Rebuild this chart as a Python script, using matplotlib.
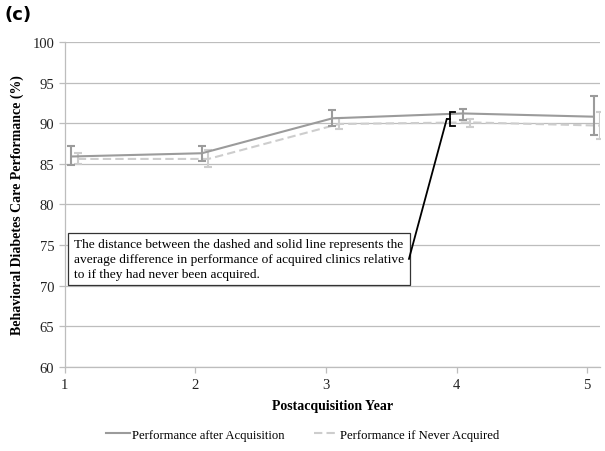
import matplotlib
matplotlib.use("Agg")
import matplotlib.pyplot as plt
from matplotlib.lines import Line2D

# Data
years = [1, 2, 3, 4, 5]
after_acq = [85.9, 86.3, 90.6, 91.2, 90.8]
after_lo = [84.8, 85.3, 89.6, 90.4, 88.5]
after_hi = [87.2, 87.2, 91.6, 91.8, 93.3]
never_acq = [85.6, 85.6, 89.9, 90.1, 89.7]
never_lo = [85.0, 84.6, 89.3, 89.5, 88.0]
never_hi = [86.3, 86.7, 90.6, 90.5, 91.4]

yticks = [60, 65, 70, 75, 80, 85, 90, 95, 100]
note = ("The distance between the dashed and solid line represents the\n"
        "average difference in performance of acquired clinics relative\n"
        "to if they had never been acquired.")

plt.rcParams['font.family'] = ['Liberation Serif', 'DejaVu Serif']

c_solid = '#9b9b9b'
c_dash = '#cdcdcd'
c_grid = '#bdbdbd'
dash_style = (0, (4, 2))

fig = plt.figure(figsize=(6.05, 4.52), dpi=100)
ax = fig.add_axes([0.107, 0.186, 0.885, 0.719])

# slight offsets like the original
x_solid = [x + 0.05 for x in years]
x_dash = [x + 0.10 for x in years]

ax.errorbar(x_dash, never_acq,
            yerr=[[m - l for m, l in zip(never_acq, never_lo)],
                  [h - m for m, h in zip(never_acq, never_hi)]],
            color=c_dash, lw=1.5, ls=dash_style, capsize=3, capthick=1.5,
            elinewidth=1.5, zorder=3)
ax.errorbar(x_solid, after_acq,
            yerr=[[m - l for m, l in zip(after_acq, after_lo)],
                  [h - m for m, h in zip(after_acq, after_hi)]],
            color=c_solid, lw=1.5, capsize=3, capthick=1.5, elinewidth=1.5,
            zorder=4)

ax.set_xlim(1, 5.1)
ax.set_ylim(60, 100)
ax.set_yticks(yticks)
ax.set_xticks(years)
ax.grid(axis='y', color=c_grid, lw=0.9, zorder=0)
ax.set_axisbelow(True)
for s in ['top', 'right']:
    ax.spines[s].set_visible(False)
for s in ['left', 'bottom']:
    ax.spines[s].set_color(c_grid)
    ax.spines[s].set_linewidth(0.9)
ax.tick_params(axis='both', colors=c_grid, labelcolor='#222222',
               labelsize=10.5, length=4, width=0.9)
ax.tick_params(axis='x', pad=4)

ax.set_xlabel('Postacquisition Year', fontsize=10, fontweight='bold', labelpad=6)
ax.set_ylabel('Behavioral Diabetes Care Performance (%)', fontsize=10,
              fontweight='bold', labelpad=6)

# note box
ax.text(1.07, 73.3, note, fontsize=9.6, va='center', ha='left', zorder=5,
        linespacing=1.3,
        bbox=dict(boxstyle='square,pad=0.42', fc='white', ec='#333333', lw=0.9))

# bracket between the two lines at year 4
bx = 3.95
b_lo = never_acq[3] - 0.5
b_hi = after_acq[3] + 0.2
b_mid = (b_lo + b_hi) / 2
ax.plot([bx + 0.035, bx, bx, bx + 0.035], [b_hi, b_hi, b_lo, b_lo],
        color='black', lw=1.3, zorder=6, solid_joinstyle='miter')
ax.plot([bx, bx - 0.025], [b_mid, b_mid], color='black', lw=1.3, zorder=6)
ax.plot([bx - 0.025, 3.636], [b_mid, 73.3], color='black', lw=1.3, zorder=6)

fig.text(0.008, 0.967, '(c)', fontsize=13, fontweight='bold',
         family='DejaVu Sans', va='center', ha='left')

handles = [Line2D([], [], color=c_solid, lw=1.5),
           Line2D([], [], color=c_dash, lw=1.5, ls=dash_style)]
labels = ['Performance after Acquisition', 'Performance if Never Acquired']
fig.legend(handles, labels, loc='center', bbox_to_anchor=(0.5, 0.036), ncol=2,
           frameon=False, fontsize=9.1, handlelength=1.9, columnspacing=2.3,
           handletextpad=0.2)

fig.savefig('out.png', dpi=100)
